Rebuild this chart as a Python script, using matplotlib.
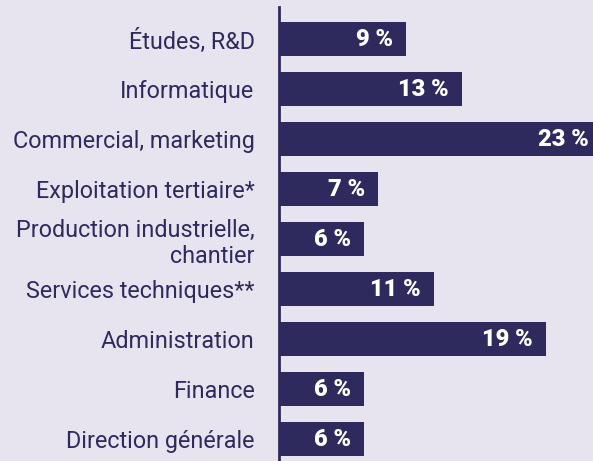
import matplotlib
matplotlib.use('Agg')
import matplotlib.pyplot as plt

# données
categories = ['Études, R&D', 'Informatique', 'Commercial, marketing',
              'Exploitation tertiaire*', 'Production industrielle,\nchantier',
              'Services techniques**', 'Administration', 'Finance',
              'Direction générale']
valeurs = [9, 13, 23, 7, 6, 11, 19, 6, 6]
etiquettes = [f'{v} %' for v in valeurs]

fond = '#e7e4ef'
violet = '#2f2a5d'

fig = plt.figure(figsize=(5.93, 4.61), dpi=100, facecolor=fond)
# axe de 280 px à 593 px en largeur, du haut (7 px) jusqu'en bas
ax = fig.add_axes([280/593, 0, 313/593, 454/461], facecolor=fond)

pos = list(range(len(categories)))
ax.barh(pos, valeurs, height=0.67, color=violet, zorder=2)

ax.set_xlim(0, 313/14)
ax.set_ylim((461-39)/50, -(39-7)/50)

for p, v, t in zip(pos, valeurs, etiquettes):
    ax.annotate(t, (v, p), xytext=(-13*72/100, -0.5), textcoords='offset points',
                ha='right', va='center', color='white', fontsize=17,
                fontweight='heavy', family='Roboto', annotation_clip=False,
                zorder=3)

ax.set_xticks([])
ax.set_yticks(pos, categories)
ax.tick_params(axis='y', length=0, pad=24*72/100, labelsize=16.8,
               labelcolor=violet, labelfontfamily='Roboto')
for lab in ax.get_yticklabels():
    lab.set_fontweight('light')
    lab.set_linespacing(1.1)

for s in ['top', 'right', 'bottom']:
    ax.spines[s].set_visible(False)
ax.spines['left'].set_color(violet)
ax.spines['left'].set_linewidth(2)
ax.spines['left'].set_position(('outward', 1))

fig.savefig('out.png', dpi=100, facecolor=fond)
